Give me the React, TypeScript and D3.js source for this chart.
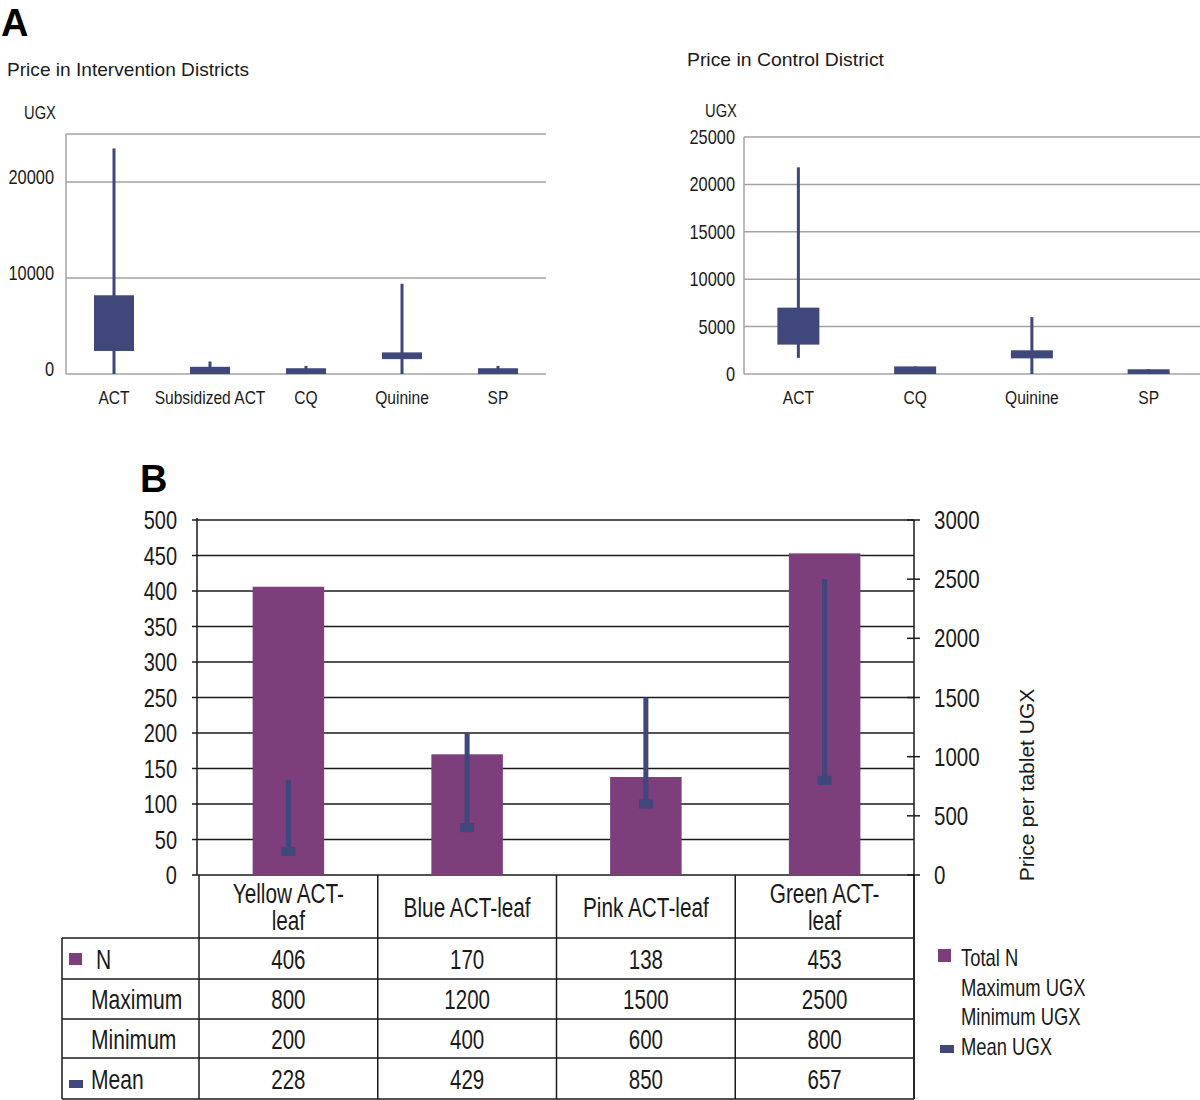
import React from "react";
import * as d3 from "d3";

// ---------- Data ----------
const interventionCats = ["ACT", "Subsidized ACT", "CQ", "Quinine", "SP"];
const interventionMin = [0, 0, 0, 0, 0];
const interventionBoxLow = [2400, 0, 0, 1550, 0];
const interventionBoxHigh = [8200, 750, 600, 2250, 600];
const interventionMax = [23500, 1300, 850, 9400, 850];
const interventionTicks = [0, 10000, 20000];

const controlCats = ["ACT", "CQ", "Quinine", "SP"];
const controlMin = [1700, 0, 0, 0];
const controlBoxLow = [3100, 0, 1650, 0];
const controlBoxHigh = [7000, 800, 2500, 500];
const controlMax = [21800, 800, 6000, 500];
const controlTicks = [0, 5000, 10000, 15000, 20000, 25000];

const leafCats = ["Yellow ACT-leaf", "Blue ACT-leaf", "Pink ACT-leaf", "Green ACT-leaf"];
const leafHeaderLines = [["Yellow ACT-", "leaf"], ["Blue ACT-leaf"], ["Pink ACT-leaf"], ["Green ACT-", "leaf"]];
const leafN = [406, 170, 138, 453];
const leafMax = [800, 1200, 1500, 2500];
const leafMin = [200, 400, 600, 800];
const leafMean = [228, 429, 850, 657];
const leftTicksB = [0, 50, 100, 150, 200, 250, 300, 350, 400, 450, 500];
const rightTicksB = [0, 500, 1000, 1500, 2000, 2500, 3000];
const tableRowLabels = ["N", "Maximum", "Minimum", "Mean"];
const legendLabels = ["Total N", "Maximum UGX", "Minimum UGX", "Mean UGX"];

// ---------- Styles ----------
const SANS = "'Liberation Sans', Arial, sans-serif";
const NAVY = "#3f477b";
const PURPLE = "#7c3f7b";
const GRID_A = "#a3a3a3";
const INK = "#1a1a1a";

// Condensed text: Liberation Sans squeezed horizontally
function NText(props: { x: number; y: number; size: number; anchor?: string; squeeze?: number; children: React.ReactNode }) {
  const { x, y, size, anchor, children } = props;
  const sq = props.squeeze ?? 0.82;
  return (
    <text transform={`translate(${x},${y}) scale(${sq},1)`} textAnchor={anchor || "start"} fontFamily={SANS} fontSize={size} fill={INK}>
      {children}
    </text>
  );
}

function BoxPanel(props: {
  cats: string[]; mins: number[]; lows: number[]; highs: number[]; maxs: number[];
  ticks: number[]; gridVals: number[]; x0: number; x1: number; bandX0: number; bandX1: number;
  yTop: number; yBottom: number; boxW: number; labelShift: number; tickRight: number;
}) {
  const { cats, mins, lows, highs, maxs, ticks, gridVals, x0, x1, bandX0, bandX1, yTop, yBottom, boxW, labelShift, tickRight } = props;
  const x = d3.scaleBand<string>().domain(cats).range([bandX0, bandX1]).padding(0);
  const y = d3.scaleLinear().domain([0, 25000]).range([yBottom, yTop]);
  return (
    <g>
      {gridVals.map((v) => (
        <line key={"g" + v} x1={x0} x2={x1} y1={y(v)} y2={y(v)} stroke={GRID_A} strokeWidth={1.5} />
      ))}
      <line x1={x0} x2={x0} y1={y(25000)} y2={y(0)} stroke={GRID_A} strokeWidth={1.5} />
      {ticks.map((v) => (
        <NText key={"t" + v} x={tickRight} y={y(v) + 7 - labelShift} anchor="end" size={20}>{v}</NText>
      ))}
      {cats.map((c, i) => {
        const cx = (x(c) as number) + x.bandwidth() / 2;
        return (
          <g key={c}>
            <rect x={cx - 1.5} y={y(maxs[i])} width={3} height={y(mins[i]) - y(maxs[i])} fill={NAVY} />
            <rect x={cx - boxW / 2} y={y(highs[i])} width={boxW} height={y(lows[i]) - y(highs[i])} fill={NAVY} />
            <NText x={cx} y={404} anchor="middle" size={19}>{c}</NText>
          </g>
        );
      })}
    </g>
  );
}

export default function App() {
  // Panel B scales
  const xB = d3.scaleBand<string>().domain(leafCats).range([199, 914]).padding(0);
  const yL = d3.scaleLinear().domain([0, 500]).range([875, 520]);
  const yR = d3.scaleLinear().domain([0, 3000]).range([875, 520]);
  const barW = xB.bandwidth() * 0.4;
  const rowEdges = [875, 938, 979, 1019, 1058, 1099];
  const rowValues = [leafN, leafMax, leafMin, leafMean];
  const colEdges = [...leafCats.map((c) => xB(c) as number), 914];

  return (
    <svg width={1200} height={1100} style={{ position: "absolute", left: 0, top: 0, background: "#fff" }}>
      <rect width={1200} height={1100} fill="#fff" />
      {/* Panel labels */}
      <text x={1} y={36} fontFamily={SANS} fontWeight="bold" fontSize={38} fill="#000">A</text>
      <text x={140} y={492} fontFamily={SANS} fontWeight="bold" fontSize={38} fill="#000">B</text>

      {/* Panel A titles */}
      <text x={7} y={76} fontFamily={SANS} fontSize={19} fill={INK} textLength={242} lengthAdjust="spacingAndGlyphs">Price in Intervention Districts</text>
      <text x={687} y={66} fontFamily={SANS} fontSize={19} fill={INK} textLength={197} lengthAdjust="spacingAndGlyphs">Price in Control District</text>
      <NText x={24} y={119} size={18}>UGX</NText>
      <NText x={705} y={117} size={18}>UGX</NText>

      <BoxPanel cats={interventionCats} mins={interventionMin} lows={interventionBoxLow} highs={interventionBoxHigh} maxs={interventionMax}
        ticks={interventionTicks} gridVals={[0, 10000, 20000, 25000]} x0={66} x1={546} bandX0={66} bandX1={546}
        yTop={134} yBottom={374} boxW={40} labelShift={5} tickRight={54} />
      <BoxPanel cats={controlCats} mins={controlMin} lows={controlBoxLow} highs={controlBoxHigh} maxs={controlMax}
        ticks={controlTicks} gridVals={controlTicks} x0={744} x1={1200} bandX0={740} bandX1={1207}
        yTop={137} yBottom={374} boxW={42} labelShift={0} tickRight={735} />

      {/* Panel B gridlines */}
      {leftTicksB.map((v) => (
        <line key={"gl" + v} x1={192} x2={914} y1={yL(v)} y2={yL(v)} stroke={INK} strokeWidth={1.5} />
      ))}
      <line x1={197} x2={197} y1={518} y2={875} stroke={INK} strokeWidth={1.5} />
      {leftTicksB.map((v) => (
        <NText key={"lt" + v} x={177} y={yL(v) + 9} anchor="end" size={25} squeeze={0.8}>{v}</NText>
      ))}
      {rightTicksB.map((v) => (
        <g key={"rt" + v}>
          <line x1={907} x2={920} y1={yR(v)} y2={yR(v)} stroke={INK} strokeWidth={1.5} />
          <NText x={934} y={yR(v) + 9} size={25}>{v}</NText>
        </g>
      ))}
      <text transform="translate(1034,785) rotate(-90)" textAnchor="middle" fontFamily={SANS} fontSize={21} fill={INK}>Price per tablet UGX</text>

      {/* Bars and ranges */}
      {leafCats.map((c, i) => {
        const cx = (xB(c) as number) + xB.bandwidth() / 2;
        return (
          <g key={c}>
            <rect x={cx - barW / 2} y={yL(leafN[i])} width={barW} height={yL(0) - yL(leafN[i])} fill={PURPLE} />
            <rect x={cx - 2.5} y={yR(leafMax[i])} width={5} height={yR(leafMin[i]) - yR(leafMax[i])} fill={NAVY} />
            <rect x={cx - 7} y={yR(leafMin[i]) - 4.5} width={14} height={9} fill={NAVY} />
          </g>
        );
      })}

      {/* Table */}
      <line x1={914} x2={914} y1={520} y2={1099} stroke={INK} strokeWidth={1.5} />
      {colEdges.map((x, i) => (
        <line key={"cv" + i} x1={x} x2={x} y1={875} y2={1099} stroke={INK} strokeWidth={1.5} />
      ))}
      <line x1={62} x2={62} y1={938} y2={1099} stroke={INK} strokeWidth={1.5} />
      {rowEdges.slice(1).map((yv, i) => (
        <line key={"rh" + i} x1={62} x2={914} y1={yv} y2={yv} stroke={INK} strokeWidth={1.5} />
      ))}
      {leafCats.map((c, i) => {
        const cx = (xB(c) as number) + xB.bandwidth() / 2;
        const lines = leafHeaderLines[i];
        const mid = (rowEdges[0] + rowEdges[1]) / 2;
        return (
          <g key={"h" + c}>
            {lines.map((ln, j) => (
              <NText key={j} x={cx} y={mid + 10 + (j - (lines.length - 1) / 2) * 27} anchor="middle" size={27} squeeze={0.77}>{ln}</NText>
            ))}
            {rowValues.map((vals, r) => (
              <NText key={"v" + r} x={cx} y={(rowEdges[r + 1] + rowEdges[r + 2]) / 2 + 10} anchor="middle" size={27} squeeze={0.76}>{vals[i]}</NText>
            ))}
          </g>
        );
      })}
      {tableRowLabels.map((lab, r) => (
        <NText key={lab} x={lab === "N" ? 96 : 91} y={(rowEdges[r + 1] + rowEdges[r + 2]) / 2 + 10} size={27} squeeze={0.78}>{lab}</NText>
      ))}
      <rect x={69} y={953} width={13} height={12} fill={PURPLE} />
      <rect x={69} y={1080} width={14} height={8} fill={NAVY} />

      {/* Legend */}
      {legendLabels.map((lab, i) => (
        <NText key={lab} x={961} y={966 + i * 29.5} size={23} squeeze={0.8}>{lab}</NText>
      ))}
      <rect x={938} y={949} width={13} height={13} fill={PURPLE} />
      <rect x={940} y={1045} width={14} height={8} fill={NAVY} />
    </svg>
  );
}
